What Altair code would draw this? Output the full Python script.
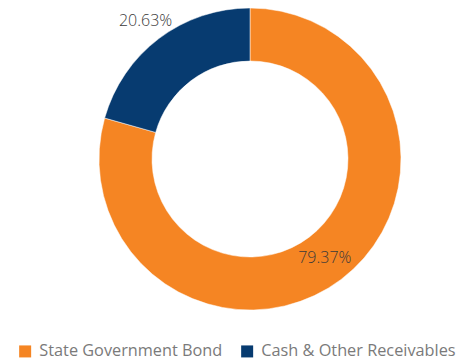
import altair as alt
import pandas as pd
import math

categories = ["State Government Bond", "Cash & Other Receivables"]
values = [79.37, 20.63]
labels = ["79.37%", "20.63%"]
label_radius = [124, 173]
colors = ["#F58523", "#073B70"]

df = pd.DataFrame({"cat": categories, "val": values, "lab": labels, "r": label_radius, "order": [0, 1]})

CX, CY = 242, 151

arc = alt.Chart(df).mark_arc(innerRadius=98, outerRadius=151, stroke="white", strokeWidth=0.5).encode(
    theta=alt.Theta("val:Q", stack=True),
    order=alt.Order("order:Q"),
    x=alt.value(CX), y=alt.value(CY),
    color=alt.Color("cat:N", scale=alt.Scale(domain=categories, range=colors),
                    legend=alt.Legend(title=None, orient="none", legendX=9, legendY=335,
                                      direction="horizontal", symbolType="square", symbolSize=144,
                                      symbolStrokeWidth=0, labelFont="Open Sans", labelFontSize=16.3,
                                      labelColor="#7a7a7a", labelLimit=0, symbolOffset=0,
                                      columnPadding=16, labelOffset=6, padding=0)),
)

text = alt.Chart(df).transform_window(
    cum="sum(val)", sort=[alt.SortField("order")]
).transform_joinaggregate(
    tot="sum(val)"
).transform_calculate(
    mid="(datum.cum - datum.val/2) / datum.tot"
).mark_text(font="Open Sans", fontSize=16, fontWeight=300, color="#3a3a3a").encode(
    theta=alt.Theta("mid:Q", stack=None, scale=alt.Scale(domain=[0, 1], range=[0, 2 * math.pi])),
    x=alt.value(CX), y=alt.value(CY),
    radius=alt.Radius("r:Q", scale=None),
    text="lab:N",
)

chart = alt.layer(arc, text).resolve_scale(theta="independent").properties(
    width=452, height=351, padding=0, autosize=alt.AutoSizeParams(type="none")
).configure_view(stroke=None)

chart.save("out.html", embed_options={"renderer": "svg", "actions": False})
